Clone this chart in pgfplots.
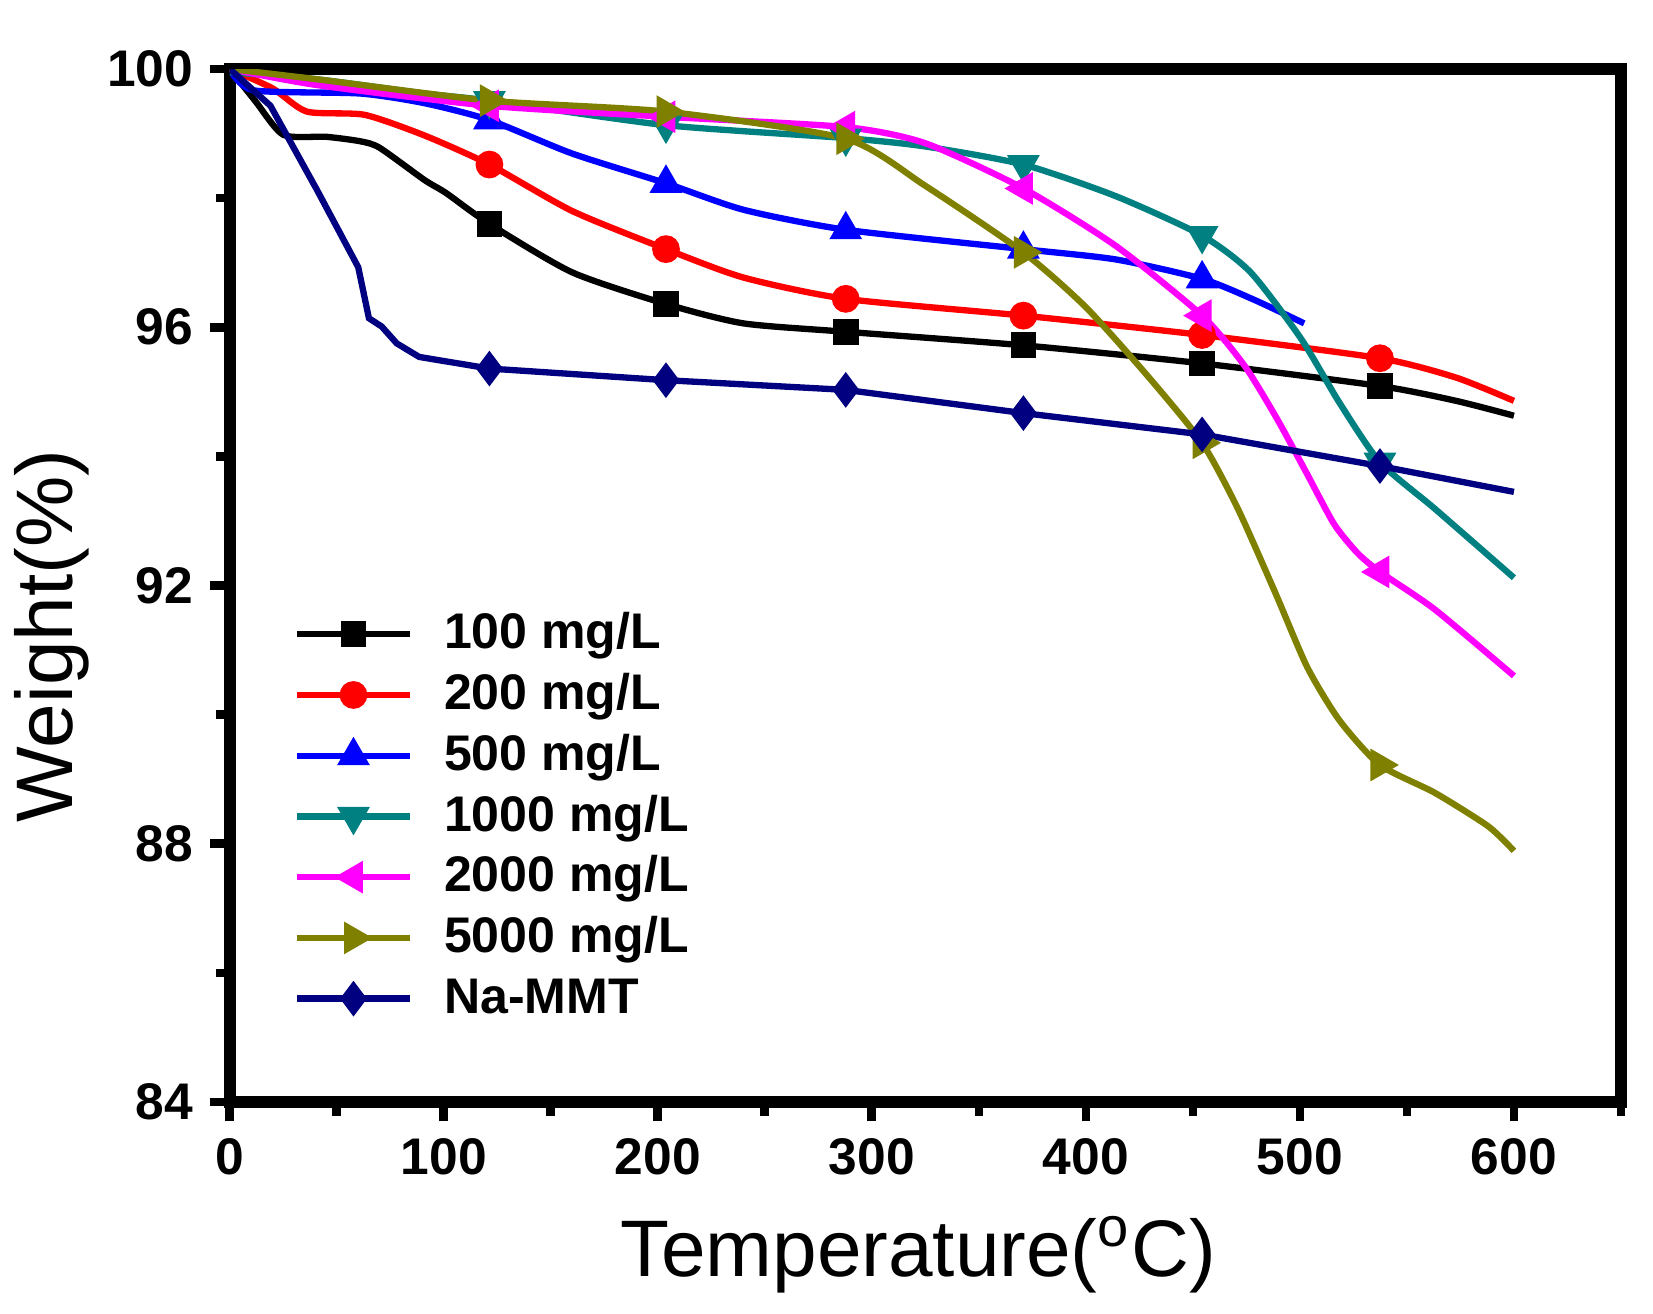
\documentclass[border=0pt]{standalone}
\usepackage{pgfplots}
\pgfplotsset{compat=1.18}
\usepackage{fontspec}
\setmainfont{Liberation Sans}
\usetikzlibrary{calc}

\definecolor{cteal}{RGB}{0,128,128}
\definecolor{colive}{RGB}{128,128,0}
\definecolor{cnavy}{RGB}{0,0,128}
\definecolor{cmagenta}{RGB}{255,0,255}
\definecolor{cred}{RGB}{255,0,0}
\definecolor{cblue}{RGB}{0,0,255}

\begin{document}
\begin{tikzpicture}
    \begin{axis}[
        name             = ax,
        scale only axis,
        width            = 286.3pt,
        height           = 212.6pt,
        xmin = 0, xmax = 650,
        ymin = 84, ymax = 100,
        xtick            = {0,100,...,600},
        minor xtick      = {50,150,...,650},
        ytick            = {84,88,92,96,100},
        minor ytick      = {86,90,94,98},
        xtick pos        = bottom,
        ytick pos        = left,
        tick align       = outside,
        major tick length= 4pt,
        minor tick length= 2.8pt,
        tick style       = {line width=1.8pt, black},
        axis line style  = {line width=2.5pt},
        /pgf/number format/assume math mode = true,
        tick label style = {font=\fontsize{10.6}{12}\selectfont\bfseries},
        xlabel           = {Temperature(\textsuperscript{o}C)},
        ylabel           = {Weight(\%)},
        label style      = {font=\fontsize{16.5}{19}\selectfont},
        x label style    = {at={(axis description cs:0.495,-0.148)}, anchor=center},
        y label style    = {at={(axis description cs:-0.128,0.451)}, anchor=center},
        every axis plot/.append style = {line width=1.3pt},
        legend cell align = left,
        legend image code/.code = {
            \draw (0pt,0pt) -- (23.3pt,0pt);
            \draw[mark indices={1}] plot coordinates {(11.6pt,0pt)};
        },
        legend style     = {draw=none, fill=none, inner sep=0pt,
                            at={(rel axis cs:0,0.482)}, xshift=13pt, anchor=north west,
                            row sep=0.5pt,
                            font=\fontsize{10.3}{12}\selectfont\bfseries,
                            nodes={inner sep=1pt, text height=8pt, text depth=2pt},
                            /tikz/every odd column/.append style={column sep=5.3pt}},
        ]

        % 100 mg/L
        \addplot[black, smooth, tension=0.4, mark=square*, mark size=2pt,
                 mark indices={9,11,13,14,15,16}] coordinates {
            (0,100) (12,99.5) (25,98.98) (45,98.95) (61,98.88) (70,98.78)
            (91,98.28) (101,98.08) (121.3,97.60) (160,96.85) (203.8,96.36)
            (240,96.06) (287.8,95.93) (370.8,95.72) (454.3,95.44) (537.4,95.09)
            (573,94.86) (600,94.63)
        };
        % 200 mg/L
        \addplot[cred, smooth, tension=0.4, mark=*, mark size=2.2pt,
                 mark indices={6,8,10,11,12,13}] coordinates {
            (0,100) (20,99.7) (36,99.34) (63,99.29) (91,98.97) (121.3,98.52)
            (160,97.8) (203.8,97.21) (240,96.77) (287.8,96.44) (370.8,96.18)
            (454.3,95.88) (537.4,95.52) (573,95.22) (600,94.86)
        };
        % 500 mg/L
        \addplot[cblue, smooth, tension=0.4, mark=triangle*, mark size=2.6pt,
                 mark indices={5,7,9,10,12}] coordinates {
            (0,100) (11,99.67) (61,99.62) (91,99.47) (121.3,99.21) (160,98.69)
            (203.8,98.23) (240,97.82) (287.8,97.51) (370.8,97.21) (414,97.05)
            (454.3,96.75) (479,96.42) (502,96.06)
        };
        % 1000 mg/L
        \addplot[cteal, smooth, tension=0.4, mark=triangle*, mark size=2.6pt,
                 mark options={rotate=180}, mark indices={4,5,6,8,10,14}] coordinates {
            (0,99.95) (41,99.84) (91,99.62) (121.3,99.51) (203.8,99.13)
            (287.8,98.93) (325,98.80) (370.8,98.52) (414,98.03) (454.3,97.42)
            (477,96.85) (500.6,95.82) (518.5,94.83) (537.4,93.91) (563,93.19)
            (600,92.12)
        };
        % 2000 mg/L
        \addplot[cmagenta, smooth, tension=0.4, mark=triangle*, mark size=2.6pt,
                 mark options={rotate=90}, mark indices={3,4,5,7,9,15}] coordinates {
            (0,100) (41,99.75) (121.3,99.43) (203.8,99.26) (287.8,99.10)
            (325,98.85) (370.8,98.15) (414,97.26) (454.3,96.18) (474,95.41)
            (489,94.6) (503,93.75) (516,92.95) (527,92.5) (537.4,92.21)
            (563,91.63) (600,90.60)
        };
        % 5000 mg/L
        \addplot[colive, smooth, tension=0.4, mark=triangle*, mark size=2.6pt,
                 mark options={rotate=-90}, mark indices={3,4,5,7,10,15}] coordinates {
            (0,100) (41,99.84) (121.3,99.51) (203.8,99.34) (287.8,98.92)
            (325,98.19) (370.8,97.16) (400,96.31) (429,95.24) (454.3,94.21)
            (471,93.19) (488.6,91.88) (503.5,90.73) (518.5,89.91) (537.4,89.22)
            (563,88.79) (588,88.27) (600,87.89)
        };
        % Na-MMT
        \addplot[cnavy, mark=diamond*, mark size=2.6pt,
                 mark indices={9,10,11,12,13,14}] coordinates {
            (0,100) (19,99.43) (41,98.11) (60,96.93) (65,96.14) (71,96.01)
            (78,95.75) (88.5,95.54) (121.3,95.36) (203.8,95.18) (287.8,95.03)
            (370.8,94.67) (454.3,94.34) (537.4,93.85) (600,93.45)
        };

        \legend{100 mg/L, 200 mg/L, 500 mg/L, 1000 mg/L, 2000 mg/L, 5000 mg/L, Na-MMT}
    \end{axis}
    \pgfresetboundingbox
    \path ($(ax.south west)+(-47.3pt,-43.6pt)$) rectangle ($(ax.north east)+(6.6pt,14.2pt)$);
\end{tikzpicture}
\end{document}
